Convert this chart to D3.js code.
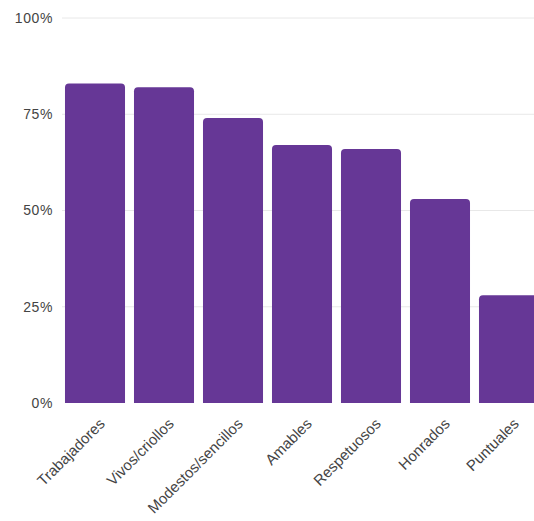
<!DOCTYPE html>
<html><head><meta charset="utf-8">
<script src="https://cdn.jsdelivr.net/npm/d3@7"></script>
<style>body{margin:0;background:#fff;overflow:hidden}text{font-family:"Liberation Sans",Arial,sans-serif}</style>
</head><body>
<script>
const categories = ["Trabajadores","Vivos/criollos","Modestos/sencillos","Amables","Respetuosos","Honrados","Puntuales"];
const values = [83, 82, 74, 67, 66, 53, 28];
const yTicks = [0, 25, 50, 75, 100];

const W = 534, H = 521;
const svg = d3.select("body").append("svg").attr("width", W).attr("height", H);

const x = d3.scaleBand().domain(categories).range([60.5, 543.5]).paddingInner(0.13).paddingOuter(0.065);
const y = d3.scaleLinear().domain([0, 100]).range([403, 18]);

// gridlines
svg.append("g").selectAll("line").data(yTicks.filter(d => d > 0)).join("line")
  .attr("x1", 62).attr("x2", W).attr("y1", d => y(d)).attr("y2", d => y(d))
  .attr("stroke", "#e8e8e8").attr("stroke-width", 1);

// y axis labels
const yAxis = d3.axisLeft(y).tickValues(yTicks).tickFormat(d => d + "%").tickSize(0).tickPadding(0);
const gy = svg.append("g").attr("transform", "translate(53,0)").call(yAxis);
gy.select(".domain").remove();
gy.selectAll("text").attr("font-size", 14).attr("letter-spacing", "0.6px").attr("fill", "#444").attr("font-family", "'Liberation Sans',Arial,sans-serif");

// bars with rounded top corners
const r = 4;
svg.append("g").selectAll("path").data(values).join("path")
  .attr("fill", "#663796")
  .attr("d", (d, i) => {
    const x0 = x(categories[i]), w = x.bandwidth(), y0 = y(d), yb = y(0);
    return `M${x0},${yb}V${y0 + r}Q${x0},${y0} ${x0 + r},${y0}H${x0 + w - r}Q${x0 + w},${y0} ${x0 + w},${y0 + r}V${yb}Z`;
  });

// x axis labels
const xAxis = d3.axisBottom(x).tickSize(0).tickPadding(0);
const gx = svg.append("g").attr("transform", "translate(0,403)").call(xAxis);
gx.select(".domain").remove();
gx.selectAll("text")
  .attr("font-size", 15).attr("fill", "#444").attr("font-family", "'Liberation Sans',Arial,sans-serif")
  .attr("text-anchor", "end")
  .attr("dy", "0.35em")
  .attr("transform", "translate(7,18) rotate(-45)")
  .attr("y", 0);
</script>
</body></html>
